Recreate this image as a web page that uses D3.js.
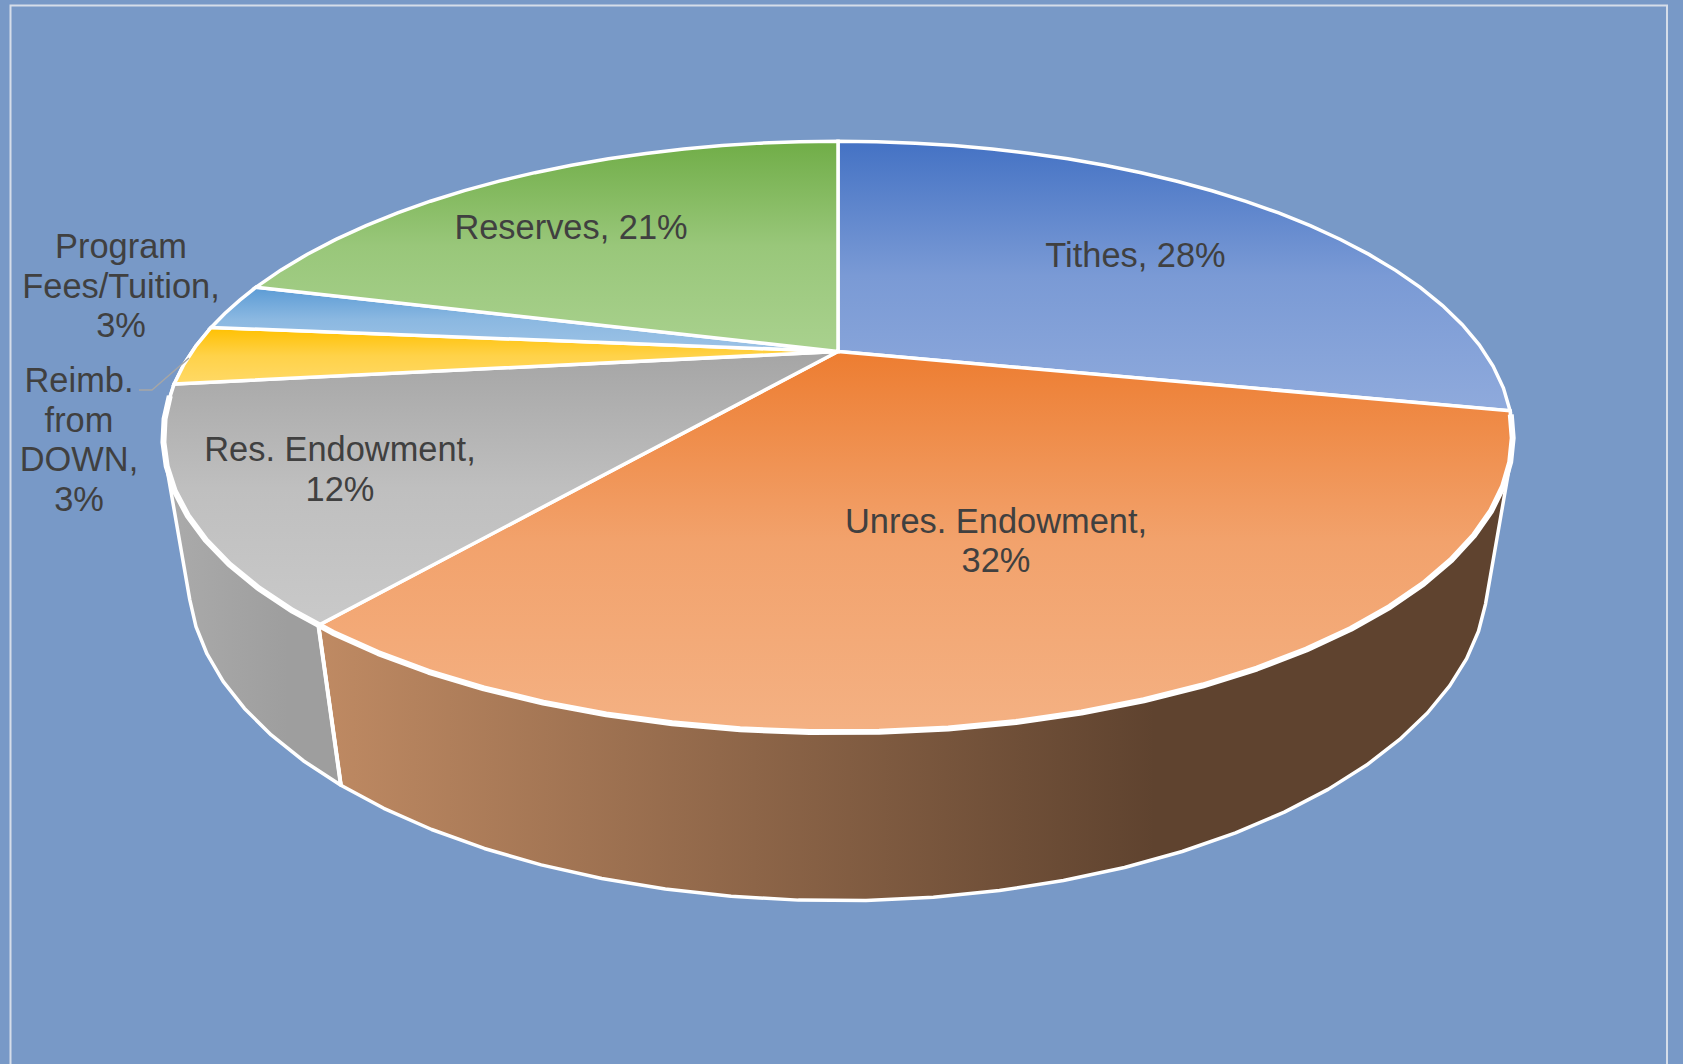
<!DOCTYPE html>
<html>
<head>
<meta charset="utf-8">
<script src="https://cdn.jsdelivr.net/npm/d3@7/dist/d3.min.js"></script>
<style>
html,body{margin:0;padding:0;background:#7899c7;overflow:hidden}
svg{display:block}
text{font-family:"Liberation Sans",Arial,sans-serif;fill:#404040}
</style>
</head>
<body>
<svg id="chart" width="1683" height="1064"></svg>
<script>
// ---- data ----
const categories = ["Tithes", "Unres. Endowment", "Res. Endowment", "Reimb. from DOWN", "Program Fees/Tuition", "Reserves"];
const values = [28.3, 32.4, 12.45, 3.3, 2.65, 20.9];
const labelLeads = [["Tithes,"], ["Unres. Endowment,"], ["Res. Endowment,"], ["Reimb.", "from", "DOWN,"], ["Program", "Fees/Tuition,"], ["Reserves,"]];
const inlinePercent = [true, false, false, false, false, true];

// ---- styling and layout, separate from the data ----
const topDark = ["#4472c4", "#ed7d31", "#a5a5a5", "#ffc000", "#5b9bd5", "#70ad47"];
const topLight = ["#8faadc", "#f4b183", "#c9c9c9", "#ffd966", "#9dc3e6", "#a9d18e"];
const wallStart = ["#5a76ac", "#bf8a63", "#ababab", "#c09a30", "#6f93b5", "#7b9b5f"];
const wallEnd = ["#2f4a80", "#5f432f", "#9e9e9e", "#806000", "#3a6080", "#456a2c"];
const labelX = [1135.5, 996, 340, 79, 121, 571];
const labelY = [255, 520.5, 449, 380, 246, 226.5];
const lineStep = 39.7;

const CX = 838, CY = 351.5, A = 646, B = 271, K = 0.2885, M = 0.035, C = 139;
const STEP = 4.5 * Math.PI / 180;

const svg = d3.select("#chart");
const defs = svg.append("defs");

// Perspective projection of the pie's top and bottom circles
function project(theta, z) {
  const u = Math.sin(theta), v = -Math.cos(theta);
  const w = 1 - K * v + M * z;
  return [CX + A * u / w, CY + (B * v + C * z) / w];
}
function arcPts(a0, a1, z) {
  const n = Math.max(1, Math.ceil((a1 - a0) / STEP));
  return d3.range(n + 1).map(i => project(a0 + (a1 - a0) * i / n, z));
}
const line = d3.line();
const arcs = d3.pie().sort(null).value(d => d)(values);

// Background and frame
svg.append("rect").attr("width", 1683).attr("height", 1064).attr("fill", "#7899c7");
svg.append("rect").attr("x", 10.5).attr("y", 5.5).attr("width", 1656.5).attr("height", 1100)
  .attr("fill", "none").attr("stroke", "#d5dde9").attr("stroke-width", 2);

// Gradients
arcs.forEach((d, i) => {
  const g = defs.append("linearGradient").attr("id", "top" + i)
    .attr("x1", 0).attr("y1", 0).attr("x2", 0).attr("y2", 1);
  g.append("stop").attr("offset", 0).attr("stop-color", topDark[i]);
  g.append("stop").attr("offset", 0.5).attr("stop-color", d3.interpolateRgb(topDark[i], topLight[i])(0.72));
  g.append("stop").attr("offset", 1).attr("stop-color", topLight[i]);
  const h = defs.append("linearGradient").attr("id", "wall" + i)
    .attr("x1", 0).attr("y1", 0).attr("x2", 1).attr("y2", 0);
  h.append("stop").attr("offset", 0).attr("stop-color", wallStart[i]);
  h.append("stop").attr("offset", 0.7).attr("stop-color", wallEnd[i]);
  h.append("stop").attr("offset", 1).attr("stop-color", wallEnd[i]);
});

// Walls for front-facing slices
const front = arcs.map((d, i) => ({d, i})).filter(o => Math.cos((o.d.startAngle + o.d.endAngle) / 2) < 0);
svg.append("g").selectAll("path").data(front).join("path")
  .attr("d", o => {
    const pts = arcPts(o.d.startAngle, o.d.endAngle, 0).concat(arcPts(o.d.startAngle, o.d.endAngle, 1));
    return line(d3.polygonHull(pts)) + "Z";
  })
  .attr("fill", o => `url(#wall${o.i})`)
  .attr("stroke", "#fff").attr("stroke-width", 3.5).attr("stroke-linejoin", "round");

// Divider edge between front walls
svg.append("g").selectAll("line").data(front.slice(1)).join("line")
  .each(function(o) {
    const p = project(o.d.startAngle, 0), q = project(o.d.startAngle, 1);
    d3.select(this).attr("x1", p[0]).attr("y1", p[1]).attr("x2", q[0]).attr("y2", q[1]);
  })
  .attr("stroke", "#fff").attr("stroke-width", 4);

// Top face
svg.append("g").selectAll("path").data(arcs).join("path")
  .attr("d", d => line([[CX, CY]].concat(arcPts(d.startAngle, d.endAngle, 0))) + "Z")
  .attr("fill", (d, i) => `url(#top${i})`)
  .attr("stroke", "#fff").attr("stroke-width", 3.5).attr("stroke-linejoin", "miter");

// Thicker rim along the near edge
svg.append("path")
  .attr("d", line(arcPts(Math.PI * 0.57, Math.PI * 1.45, 0)))
  .attr("fill", "none").attr("stroke", "#fff").attr("stroke-width", 6).attr("stroke-linejoin", "round");

// Leader line
svg.append("path").attr("d", line([[139, 390], [152, 390], [189, 358]]))
  .attr("fill", "none").attr("stroke", "#a6a6a6").attr("stroke-width", 1.5);

// Labels
const labels = svg.append("g").selectAll("text").data(arcs).join("text")
  .attr("text-anchor", "middle").attr("font-size", 34.4)
  .attr("transform", (d, i) => `translate(${labelX[i]},${labelY[i]})`);
labels.each(function(d, i) {
  const pct = Math.round(d.value) + "%";
  const lines = labelLeads[i].slice();
  if (inlinePercent[i]) lines[lines.length - 1] += " " + pct; else lines.push(pct);
  d3.select(this).selectAll("tspan").data(lines).join("tspan")
    .attr("x", 0).attr("y", (t, j) => j * lineStep).attr("dy", "0.35em").text(t => t);
});
</script>
</body>
</html>
